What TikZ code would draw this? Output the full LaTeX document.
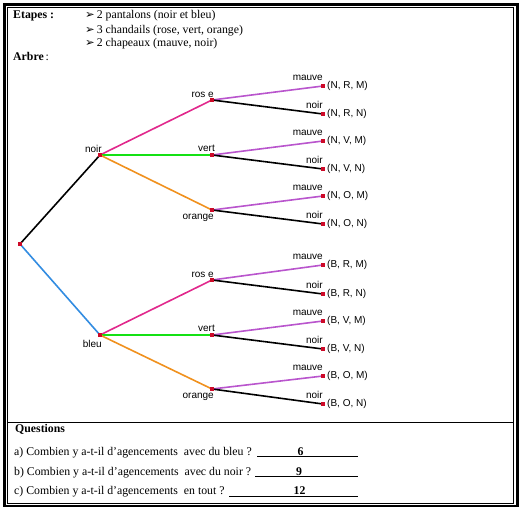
\documentclass[tikz,border=0pt]{standalone}
\usepackage{fontspec}
\setmainfont{Liberation Serif}
\newfontfamily\arialf{Liberation Sans}
\newfontfamily\dejavu{DejaVu Sans}
\begin{document}
\begin{tikzpicture}[x=1pt,y=-1pt,
  br/.style={line width=1.6pt},
  rosec/.style={br,draw=roseC},
  vertc/.style={br,draw=vertC},
  orangec/.style={br,draw=orangeC},
  mauvec/.style={br,draw=mauveC},
  noirc/.style={br,draw=black},
  bleuc/.style={br,draw=bleuC},
  lbl/.style={font=\arialf\fontsize{10}{12}\selectfont,inner sep=0pt},
  tup/.style={font=\arialf\fontsize{10}{12}\selectfont,inner sep=0pt,anchor=west},
  txt/.style={font=\fontsize{11.8}{14}\selectfont,inner sep=0pt,anchor=base west},
  mk/.style={fill=markC,draw=none}
]
\definecolor{roseC}{RGB}{225,40,140}
\definecolor{vertC}{RGB}{20,225,20}
\definecolor{orangeC}{RGB}{240,145,30}
\definecolor{mauveC}{RGB}{185,85,205}
\definecolor{bleuC}{RGB}{50,140,225}
\definecolor{markC}{RGB}{205,10,40}
\useasboundingbox (0,0) rectangle (525,514);
% frame
\draw[line width=2.8pt] (4.5,4.5) rectangle (517.3,506);
\draw[line width=0.8pt] (7.4,7.4) rectangle (513.7,503);
\coordinate (sepL) at (7.4,422);
\coordinate (sepR) at (513.7,422);
\draw[line width=0.8pt] (sepL) -- (sepR);
% header
\node[txt,font=\bfseries\fontsize{11.8}{14}\selectfont] (etapes) at (13,19) {Etapes :};
\node[txt] (l1) at (85,19) {{\dejavu\fontsize{11.5}{12}\selectfont ➢}\hspace{2pt}2 pantalons (noir et bleu)};
\node[txt] (l2) at (85,33) {{\dejavu\fontsize{11.5}{12}\selectfont ➢}\hspace{2pt}3 chandails (rose, vert, orange)};
\node[txt] (l3) at (85,46.5) {{\dejavu\fontsize{11.5}{12}\selectfont ➢}\hspace{2pt}2 chapeaux (mauve, noir)};
\node[txt,font=\bfseries\fontsize{11.8}{14}\selectfont] (arbre) at (13,60) {Arbre\,{\mdseries:}};
% tree coordinates
\coordinate (root) at (20,244);
\coordinate (N) at (100,155);
\coordinate (B) at (100,335);
\coordinate (NR) at (212,100);
\coordinate (NV) at (212,155);
\coordinate (NO) at (212,210);
\coordinate (BR) at (212,280);
\coordinate (BV) at (212,335);
\coordinate (BO) at (212,389);
\coordinate (NRM) at (323,86);
\coordinate (NRN) at (323,114);
\coordinate (NVM) at (323,141);
\coordinate (NVN) at (323,169);
\coordinate (NOM) at (323,196);
\coordinate (NON) at (323,224);
\coordinate (BRM) at (323,265);
\coordinate (BRN) at (323,294);
\coordinate (BVM) at (323,321);
\coordinate (BVN) at (323,349);
\coordinate (BOM) at (323,376);
\coordinate (BON) at (323,404);
% edges
\draw[noirc] (root) -- (N);
\draw[bleuc] (root) -- (B);
\foreach \p in {N,B}{
  \draw[rosec] (\p) -- (\p R);
  \draw[vertc] (\p) -- (\p V);
  \draw[orangec] (\p) -- (\p O);
  \foreach \q in {R,V,O}{
    \draw[mauvec] (\p\q) -- (\p\q M);
    \draw[noirc] (\p\q) -- (\p\q N);
  }
}
% markers
\foreach \c in {root,N,B,NR,NV,NO,BR,BV,BO,NRM,NRN,NVM,NVN,NOM,NON,BRM,BRN,BVM,BVN,BOM,BON}{
  \fill[mk] ([xshift=-1.6pt,yshift=-1.6pt]\c) rectangle ([xshift=1.6pt,yshift=1.6pt]\c);
}
% labels
\node[lbl,anchor=base east] (lN) at ([xshift=2pt,yshift=3pt]N) {noir};
\node[lbl,anchor=base east] (lB) at ([xshift=2pt,yshift=-12pt]B) {bleu};
\foreach \p/\t in {N/n,B/b}{
  \node[lbl,anchor=base east] (l\t r) at ([xshift=2pt,yshift=3pt]\p R) {ros e};
  \node[lbl,anchor=base east] (l\t v) at ([xshift=3pt,yshift=4pt]\p V) {vert};
  \node[lbl,anchor=base east] (l\t o) at ([xshift=2pt,yshift=-9pt]\p O) {orange};
  \foreach \q in {R,V,O}{
    \node[lbl,anchor=base east] (m\p\q) at ([yshift=6pt]\p\q M) {mauve};
    \node[lbl,anchor=base east] (n\p\q) at ([yshift=6pt]\p\q N) {noir};
  }
}
\node[tup] (tNRM) at ([xshift=4pt]NRM) {(N, R, M)};
\node[tup] (tNRN) at ([xshift=4pt]NRN) {(N, R, N)};
\node[tup] (tNVM) at ([xshift=4pt]NVM) {(N, V, M)};
\node[tup] (tNVN) at ([xshift=4pt]NVN) {(N, V, N)};
\node[tup] (tNOM) at ([xshift=4pt]NOM) {(N, O, M)};
\node[tup] (tNON) at ([xshift=4pt]NON) {(N, O, N)};
\node[tup] (tBRM) at ([xshift=4pt]BRM) {(B, R, M)};
\node[tup] (tBRN) at ([xshift=4pt]BRN) {(B, R, N)};
\node[tup] (tBVM) at ([xshift=4pt]BVM) {(B, V, M)};
\node[tup] (tBVN) at ([xshift=4pt]BVN) {(B, V, N)};
\node[tup] (tBOM) at ([xshift=4pt]BOM) {(B, O, M)};
\node[tup] (tBON) at ([xshift=4pt]BON) {(B, O, N)};
% questions
\node[txt,font=\bfseries\fontsize{11.8}{14}\selectfont] (qt) at (15,432.5) {Questions};
\node[txt] (qa) at (14,455) {a) Combien y a-t-il d’agencements\ \ avec du bleu ?};
\node[txt] (qb) at (14,475) {b) Combien y a-t-il d’agencements\ \ avec du noir ?};
\node[txt] (qc) at (14,494.5) {c) Combien y a-t-il d’agencements\ \ en tout ?};
\coordinate (ua1) at (257,456.8); \coordinate (ua2) at (358,456.8);
\coordinate (ub1) at (255,476.8); \coordinate (ub2) at (358,476.8);
\coordinate (uc1) at (229,496.8); \coordinate (uc2) at (358,496.8);
\draw[line width=0.7pt] (ua1) -- (ua2);
\draw[line width=0.7pt] (ub1) -- (ub2);
\draw[line width=0.7pt] (uc1) -- (uc2);
\node[txt,font=\bfseries\fontsize{11.8}{14}\selectfont,anchor=base] (a6) at (300.5,455) {6};
\node[txt,font=\bfseries\fontsize{11.8}{14}\selectfont,anchor=base] (a9) at (299,475) {9};
\node[txt,font=\bfseries\fontsize{11.8}{14}\selectfont,anchor=base] (a12) at (299.5,494.5) {12};
\end{tikzpicture}
\end{document}
